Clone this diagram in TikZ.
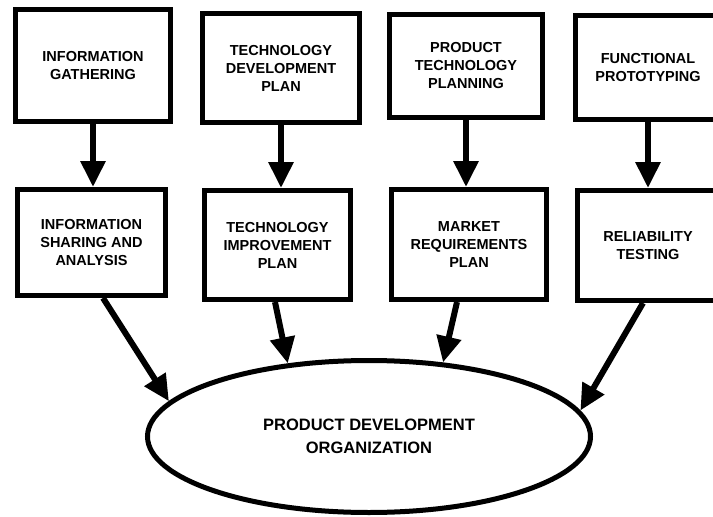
\documentclass[tikz,border=0pt]{standalone}
\usepackage{fontspec}
\setmainfont{Liberation Sans}
\usetikzlibrary{arrows.meta,shapes.geometric,calc}
\begin{document}
\begin{tikzpicture}[x=1pt,y=-1pt,
  box/.style={draw,line width=5pt,align=center,inner sep=0pt,
    font=\fontsize{14.5}{18}\selectfont\bfseries},
  arr/.style={line width=6pt,-{Triangle[width=24pt,length=26pt]}},
]
\clip (0,0) rectangle (713,517);
\fill[white] (0,0) rectangle (713,517);
% top row
\node[box,minimum width=155pt,minimum height=112pt] (n1) at (93,65.5) {INFORMATION\\GATHERING};
\node[box,minimum width=157pt,minimum height=109pt] (n2) at (281,68) {TECHNOLOGY\\DEVELOPMENT\\PLAN};
\node[box,minimum width=153pt,minimum height=103pt] (n3) at (466,66) {PRODUCT\\TECHNOLOGY\\PLANNING};
\node[box,minimum width=145pt,minimum height=104pt] (n4) at (648,67.5) {FUNCTIONAL\\PROTOTYPING};
% middle row
\node[box,minimum width=148pt,minimum height=106pt] (n5) at (91.5,242.5) {INFORMATION\\SHARING AND\\ANALYSIS};
\node[box,minimum width=146pt,minimum height=109pt] (n6) at (277.5,245) {TECHNOLOGY\\IMPROVEMENT\\PLAN};
\node[box,minimum width=155pt,minimum height=110pt] (n7) at (469,244.5) {MARKET\\REQUIREMENTS\\PLAN};
\node[box,minimum width=141pt,minimum height=110pt] (n8) at (648,245.5) {RELIABILITY\\TESTING};
% ellipse
\node[draw,ellipse,line width=5pt,inner sep=0pt,minimum width=443pt,minimum height=152pt,
  align=center,font=\fontsize{16.5}{23}\selectfont\bfseries] (org) at (369,436.5)
  {PRODUCT DEVELOPMENT\\ORGANIZATION};
% arrows
\draw[arr] (n1.south) -- (n1.south |- n5.north);
\draw[arr] (n2.south) -- (n2.south |- n6.north);
\draw[arr] (n3.south) -- (n3.south |- n7.north);
\draw[arr] (n4.south) -- (n4.south |- n8.north);
\draw[arr] ($(n5.south)+(11.5,0)$) -- (org.170.5);
\draw[arr] ($(n6.south)+(-2.5,0)$) -- (org.138.8);
\draw[arr] ($(n7.south)+(-12,0)$) -- (org.45.2);
\draw[arr] ($(n8.south)+(-5,0)$) -- (org.7.8);
\end{tikzpicture}
\end{document}
